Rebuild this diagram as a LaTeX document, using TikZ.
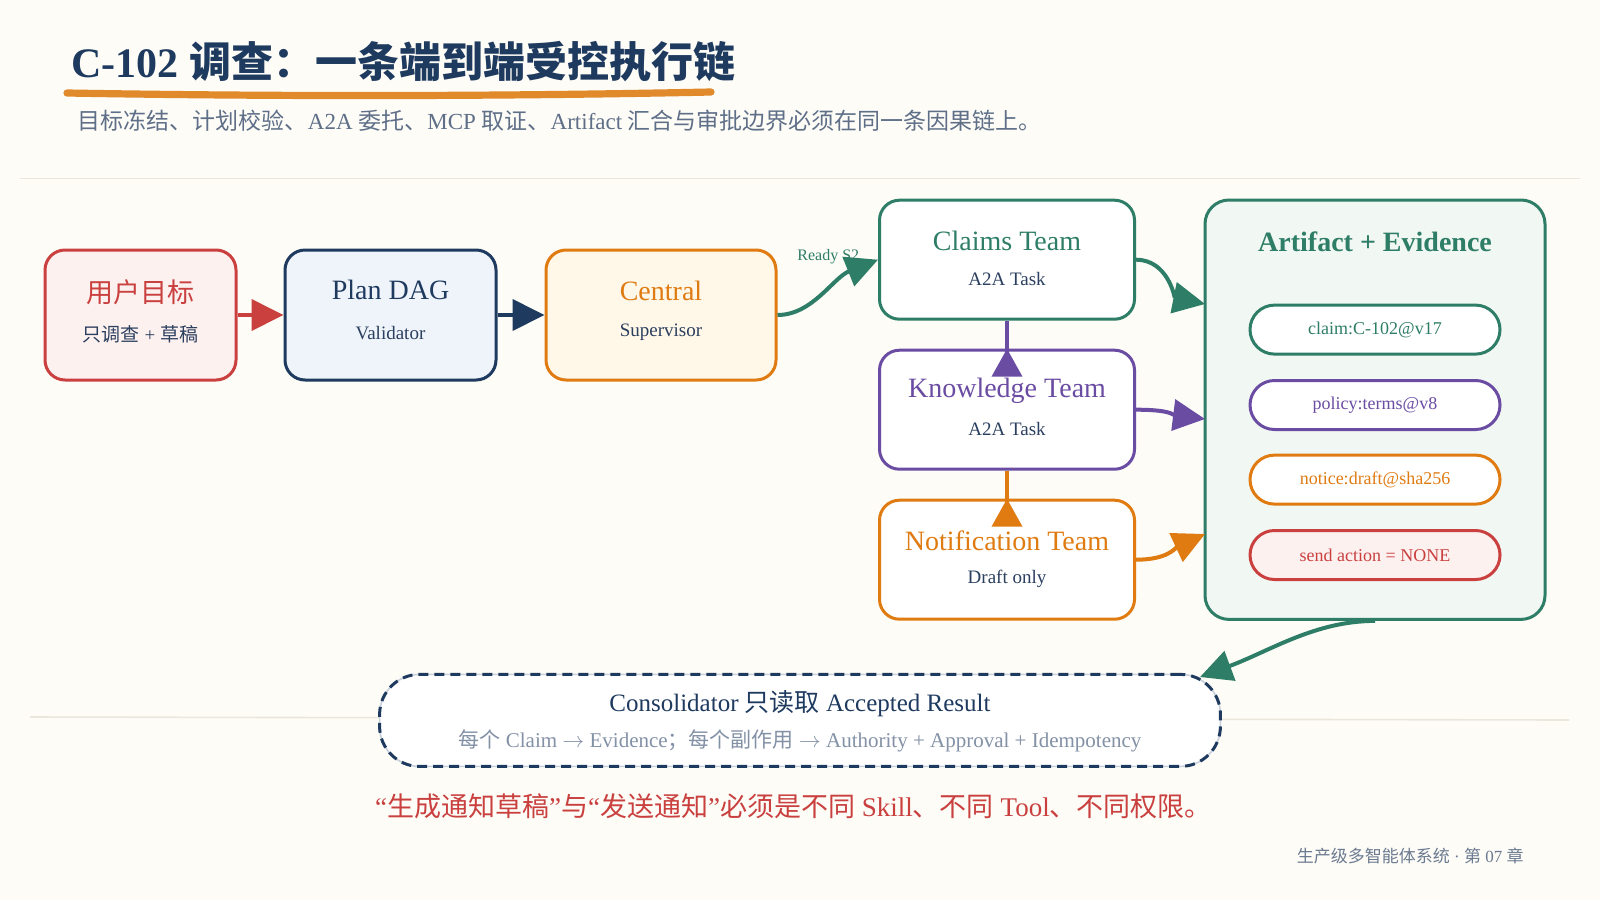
\documentclass[tikz,border=0pt]{standalone}
\usepackage{fontspec}
\setmainfont{Liberation Serif}
\newfontfamily\cjk{Noto Sans CJK SC}
\newcommand\zh[1]{{\cjk #1}}
\usetikzlibrary{arrows.meta,calc}
\definecolor{bg}{HTML}{FDFCF7}
\definecolor{navy}{HTML}{1E3A5F}
\definecolor{subnavy}{HTML}{2B3F5F}
\definecolor{cred}{HTML}{C9403F}
\definecolor{corange}{HTML}{E07B12}
\definecolor{uline}{HTML}{E08A2B}
\definecolor{cgreen}{HTML}{2E7D66}
\definecolor{cpurple}{HTML}{6B4CA3}
\definecolor{goalfill}{HTML}{FDF1F0}
\definecolor{planfill}{HTML}{EFF4FA}
\definecolor{centfill}{HTML}{FFF7E8}
\definecolor{artfill}{HTML}{F1F7F3}
\definecolor{subgray}{HTML}{5F6F88}
\definecolor{consgray}{HTML}{8391A6}
\definecolor{consline}{HTML}{C8D0DC}
\definecolor{sepline}{HTML}{ECE7DC}
\definecolor{footgray}{HTML}{6B7A90}
\tikzset{
  box/.style={draw, line width=1.5pt, rounded corners=10pt, inner sep=0pt},
  pill/.style={draw, line width=1.5pt, rounded corners=12.25pt, fill=white, inner sep=0pt,
    minimum width=125pt, minimum height=24.5pt, font=\fontsize{9}{11}\selectfont},
  ttl/.style={inner sep=0pt, font=\fontsize{14}{17}\selectfont},
  sub/.style={inner sep=0pt, text=subnavy, font=\fontsize{9.5}{12}\selectfont},
  arr/.style={line width=2pt, -{Triangle[length=16pt,width=15.5pt]}},
  uparr/.style={line width=2pt, -{Triangle[reversed,length=14pt,width=15pt]}},
}
\begin{document}
\begin{tikzpicture}[x=0.5pt,y=-0.5pt]
\useasboundingbox (0,0) rectangle (1600,900);
\fill[bg] (0,0) rectangle (1600,900);
% separators
\draw[sepline, line width=0.8pt] (20,178.5) -- (1580,178.5);
\draw[sepline, line width=0.8pt] (30,717) -- (1569,720);
% title
\node[anchor=west, inner sep=0pt, text=navy, font=\fontsize{21}{25}\selectfont\bfseries] (title) at (71,62) {C-102 \zh{调查：一条端到端受控执行链}};
\draw[uline, line width=3.6pt, line cap=round] (67,93) .. controls (300,97) and (520,96) .. (711,92);
\node[anchor=west, inner sep=0pt, text=subgray, font=\fontsize{11.5}{14}\selectfont] (subtitle) at (77.5,120.4) {\zh{目标冻结、计划校验、}A2A \zh{委托、}MCP \zh{取证、}Artifact \zh{汇合与审批边界必须在同一条因果链上。}};
% main boxes
\node[box, draw=cred, fill=goalfill, minimum width=95.5pt, minimum height=65pt] (goal) at (140.5,315) {};
\node[box, draw=navy, fill=planfill, minimum width=105.5pt, minimum height=65pt] (plan) at (390.5,315) {};
\node[box, draw=corange, fill=centfill, minimum width=115pt, minimum height=65pt] (central) at (661,315) {};
\node[box, draw=cgreen, fill=white, minimum width=127.5pt, minimum height=59.5pt] (claims) at (1007,259.7) {};
\node[box, draw=cpurple, fill=white, minimum width=127.5pt, minimum height=59.5pt] (know) at (1007,409.7) {};
\node[box, draw=corange, fill=white, minimum width=127.5pt, minimum height=59.5pt] (notif) at (1007,559.7) {};
\node[box, draw=cgreen, fill=artfill, rounded corners=12pt, minimum width=170pt, minimum height=209.7pt] (art) at (1375,409.7) {};
% box texts
\node[inner sep=0pt, text=cred, font=\fontsize{13.5}{16}\selectfont\cjk] (goalT) at (140.5,292) {用户目标};
\node[sub] (goalS) at (140.5,334) {\zh{只调查} + \zh{草稿}};
\node[ttl, text=navy] (planT) at (390.5,290) {Plan DAG};
\node[sub] (planS) at (390.5,333) {Validator};
\node[ttl, text=corange] (centT) at (661,291) {Central};
\node[sub] (centS) at (661,332) {Supervisor};
\node[ttl, text=cgreen] (claimsT) at (1007,241) {Claims Team};
\node[sub] (claimsS) at (1007,279) {A2A Task};
\node[ttl, text=cpurple] (knowT) at (1007,391) {Knowledge Team};
\node[sub] (knowS) at (1007,429) {A2A Task};
\node[ttl, text=corange] (notifT) at (1007,541) {Notification Team};
\node[sub] (notifS) at (1007,579) {Draft only};
\node[inner sep=0pt, text=cgreen, font=\fontsize{14}{17}\selectfont\bfseries] (artT) at (1375,242) {Artifact + Evidence};
% pills
\node[pill, draw=cgreen, text=cgreen] (p1) at (1375,329.6) {claim:C-102@v17};
\node[pill, draw=cpurple, text=cpurple] (p2) at (1375,405) {policy:terms@v8};
\node[pill, draw=corange, text=corange] (p3) at (1375,479.6) {notice:draft@sha256};
\node[pill, draw=cred, fill=goalfill, text=cred] (p4) at (1375,555) {send action = NONE};
% consolidator
\node[draw=consline, line width=0.8pt, fill=white, rounded corners=20pt, minimum width=420.4pt, minimum height=46pt, inner sep=0pt,
  postaction={draw=navy, line width=1.5pt, dash pattern=on 5pt off 3pt}] (cons) at (800,720.4) {};
\node[inner sep=0pt, text=navy, font=\fontsize{12.5}{15}\selectfont] (consT) at (800,704) {Consolidator \zh{只读取} Accepted Result};
\node[inner sep=0pt, text=consgray, font=\fontsize{10.5}{13}\selectfont] (consS) at (800,741) {\zh{每个} Claim $\rightarrow$ Evidence\zh{；每个副作用} $\rightarrow$ Authority + Approval + Idempotency};
% label
\node[anchor=west, inner sep=0pt, text=cgreen, font=\fontsize{8}{10}\selectfont] (ready) at (797,257) {Ready S2};
% coordinates on artifact border
\coordinate (a1) at (1205,304);
\coordinate (a2) at (1205,419);
\coordinate (a3) at (1205,534);
\coordinate (c1) at (1200,677);
% edges
\draw[arr, cred] (goal) -- (plan);
\draw[arr, navy] (plan) -- (central);
\draw[arr, cgreen] (central.east) .. controls +(35,0) and +(-45,18) .. (claims.west);
\draw[uparr, cpurple] (claims.south) -- ($(know.north)+(0,28)$);
\draw[uparr, corange] (know.south) -- ($(notif.north)+(0,28)$);
\draw[arr, cgreen] (claims.east) .. controls +(32,0) and +(-30,-6) .. (a1);
\draw[arr, cpurple] (know.east) .. controls +(35,0) and +(-32,-4) .. (a2);
\draw[arr, corange] (notif.east) .. controls +(32,0) and +(-30,14) .. (a3);
\draw[arr, cgreen] (art.south) .. controls +(-60,0) and +(70,-26) .. (c1);
% bottom texts
\node[inner sep=0pt, text=cred, font=\fontsize{13.5}{16}\selectfont] (warn) at (793.5,806) {“\zh{生成通知草稿}”\zh{与}“\zh{发送通知}”\zh{必须是不同} Skill\zh{、不同} Tool\zh{、不同权限。}};
\node[anchor=east, inner sep=0pt, text=footgray, font=\fontsize{8.5}{10}\selectfont] (foot) at (1524,856) {\zh{生产级多智能体系统} · \zh{第} 07 \zh{章}};
\end{tikzpicture}
\end{document}
